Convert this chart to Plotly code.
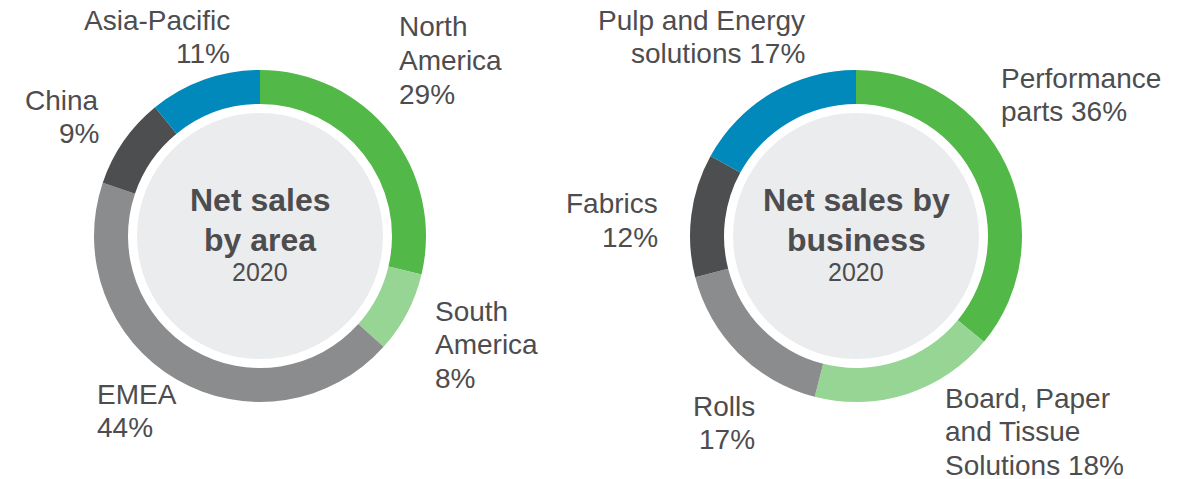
import plotly.graph_objects as go

# ---------------- data ----------------
area_labels = ["North America", "South America", "EMEA", "China", "Asia-Pacific"]
area_values = [29, 8, 44, 9, 11]
area_label_lines = [["North", "America", "{v}%"],
                    ["South", "America", "{v}%"],
                    ["EMEA", "{v}%"],
                    ["China", "{v}%"],
                    ["Asia-Pacific", "{v}%"]]

business_labels = ["Performance parts", "Board, Paper and Tissue Solutions", "Rolls",
                   "Fabrics", "Pulp and Energy solutions"]
business_values = [36, 18, 17, 12, 17]
business_label_lines = [["Performance", "parts {v}%"],
                        ["Board, Paper", "and Tissue", "Solutions {v}%"],
                        ["Rolls", "{v}%"],
                        ["Fabrics", "{v}%"],
                        ["Pulp and Energy", "solutions {v}%"]]

center_titles = [["Net sales", "by area"], ["Net sales by", "business"]]
center_year = "2020"

# ---------------- style ----------------
W, H = 1185, 479
colors = ["#52B848", "#96D594", "#8B8C8E", "#4D4E50", "#0089BA"]
inner_fill = "#EBECEE"
text_color = "#4D4D4F"
FONT = "Liberation Sans, Arial, sans-serif"
LABEL_SIZE = 28
LINE_GAP = 33.7

centers = [(260, 236), (856, 236)]
R_OUT = 166
R_IN = 132
R_CIRCLE = 123

# label anchor positions (px): (x, first-line y, xanchor)
area_pos = [(397, 27, "left"), (433, 311, "left"), (95, 394, "left"),
            (101, 100, "right"), (232, 20, "right")]
business_pos = [(999, 78, "left"), (943, 398, "left"), (757, 406, "right"),
                (660, 204, "right"), (807, 20, "right")]


def px(x):
    return x / W


def py(y):
    return 1 - y / H


fig = go.Figure()
for (cx, cy), labels, values in zip(centers, [area_labels, business_labels],
                                    [area_values, business_values]):
    fig.add_trace(go.Pie(
        labels=labels, values=values, sort=False, direction="clockwise", rotation=0,
        hole=R_IN / R_OUT, textinfo="none", hoverinfo="label+percent",
        marker=dict(colors=colors, line=dict(width=0)),
        domain=dict(x=[px(cx - R_OUT), px(cx + R_OUT)], y=[py(cy + R_OUT), py(cy - R_OUT)]),
    ))
    fig.add_shape(type="circle", xref="paper", yref="paper",
                  x0=px(cx - R_CIRCLE), x1=px(cx + R_CIRCLE),
                  y0=py(cy + R_CIRCLE), y1=py(cy - R_CIRCLE),
                  fillcolor=inner_fill, line=dict(width=0))

annotations = []
for lines_set, values, positions in [(area_label_lines, area_values, area_pos),
                                     (business_label_lines, business_values, business_pos)]:
    for lines, v, (x, y0, anchor) in zip(lines_set, values, positions):
        for i, line in enumerate(lines):
            annotations.append(dict(
                x=px(x), y=py(y0 + i * LINE_GAP), xref="paper", yref="paper",
                text=line.format(v=v), showarrow=False, xanchor=anchor, yanchor="middle",
                align=anchor, font=dict(family=FONT, size=LABEL_SIZE, color=text_color)))

for (cx, cy), title in zip(centers, center_titles):
    for i, line in enumerate(title):
        annotations.append(dict(
            x=px(cx), y=py(200 + i * 40), xref="paper", yref="paper",
            text="<b>" + line + "</b>", showarrow=False, xanchor="center", yanchor="middle",
            font=dict(family=FONT, size=32, color=text_color)))
    annotations.append(dict(
        x=px(cx), y=py(272), xref="paper", yref="paper", text=center_year,
        showarrow=False, xanchor="center", yanchor="middle",
        font=dict(family=FONT, size=25, color=text_color)))

fig.update_layout(
    width=W, height=H, margin=dict(l=0, r=0, t=0, b=0),
    paper_bgcolor="white", plot_bgcolor="white", showlegend=False,
    annotations=annotations,
)

fig.write_html("out.html")
